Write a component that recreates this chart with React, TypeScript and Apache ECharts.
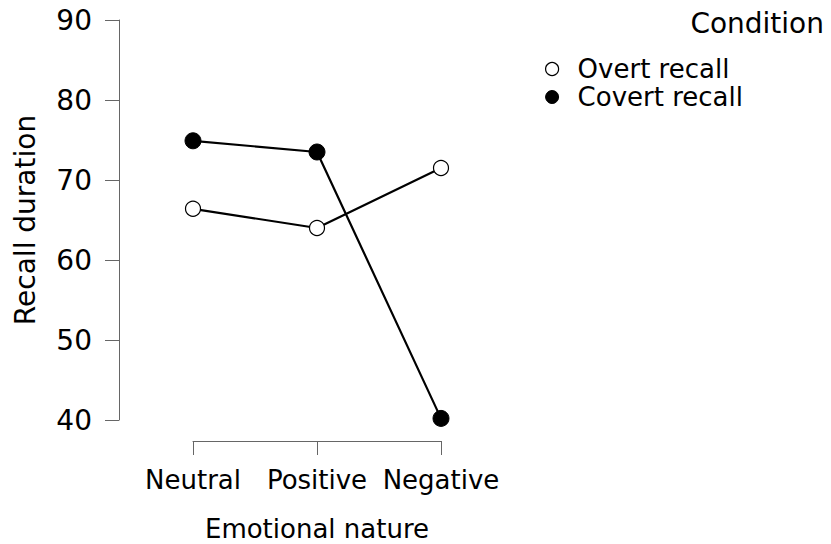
import React, { useEffect, useRef } from "react";
import * as echarts from "echarts";

const categories = ["Neutral", "Positive", "Negative"];
const overtRecall = [66.4, 64.0, 71.5];
const covertRecall = [74.9, 73.5, 40.2];
const yTicks = { min: 40, max: 90, interval: 10 };

const FONT = "DejaVu Sans";

export default function App() {
  const ref = useRef<HTMLDivElement>(null);
  useEffect(() => {
    if (!ref.current) return;
    document.body.style.margin = "0";
    const chart = echarts.init(ref.current, null, { renderer: "svg" });
    chart.setOption({
      animation: false,
      backgroundColor: "#fff",
      textStyle: { fontFamily: FONT, color: "#000" },
      title: {
        text: "Condition",
        right: 2,
        top: 4,
        textStyle: { fontFamily: FONT, fontSize: 28, fontWeight: "normal", color: "#000" },
      },
      legend: {
        orient: "vertical",
        left: 540,
        top: 51,
        itemWidth: 13,
        itemHeight: 13,
        itemGap: 2,
        icon: "circle",
        textStyle: { fontFamily: FONT, fontSize: 26, color: "#000", lineHeight: 26, padding: [0, 0, 0, 14] },
        data: [
          { name: "Overt recall", itemStyle: { color: "#fff", borderColor: "#000", borderWidth: 1.2 } },
          { name: "Covert recall", itemStyle: { color: "#000", borderColor: "#000", borderWidth: 1 } },
        ],
      },
      grid: { left: 193, right: 390, top: 20, bottom: 124, containLabel: false, outerBoundsMode: "none" },
      xAxis: {
        type: "category",
        data: categories,
        boundaryGap: false,
        offset: 21,
        name: "Emotional nature",
        nameLocation: "middle",
        nameGap: 75,
        nameTextStyle: { fontFamily: FONT, fontSize: 26, color: "#000", lineHeight: 26 },
        axisLine: { lineStyle: { color: "#666", width: 1 } },
        axisTick: { length: 14, lineStyle: { color: "#666", width: 1 } },
        axisLabel: { fontFamily: FONT, fontSize: 26, color: "#000", margin: 26, interval: 0 },
        splitLine: { show: false },
      },
      yAxis: {
        type: "value",
        min: yTicks.min,
        max: yTicks.max,
        interval: yTicks.interval,
        offset: 74,
        name: "Recall duration",
        nameLocation: "middle",
        nameGap: 80,
        nameTextStyle: { fontFamily: FONT, fontSize: 28, color: "#000" },
        axisLine: { show: true, lineStyle: { color: "#666", width: 1 } },
        axisTick: { show: true, length: 14, lineStyle: { color: "#666", width: 1 } },
        axisLabel: { fontFamily: FONT, fontSize: 28, color: "#000", margin: 27 },
        splitLine: { show: false },
      },
      series: [
        {
          name: "Overt recall",
          type: "line",
          data: overtRecall,
          symbol: "circle",
          symbolSize: 15,
          itemStyle: { color: "#fff", borderColor: "#000", borderWidth: 1.2 },
          lineStyle: { color: "#000", width: 2.2 },
          z: 3,
        },
        {
          name: "Covert recall",
          type: "line",
          data: covertRecall,
          symbol: "circle",
          symbolSize: 16,
          itemStyle: { color: "#000", borderColor: "#000", borderWidth: 1 },
          lineStyle: { color: "#000", width: 2.2 },
          z: 2,
        },
      ],
    });
    return () => chart.dispose();
  }, []);
  return <div ref={ref} style={{ width: 831, height: 544 }} />;
}
